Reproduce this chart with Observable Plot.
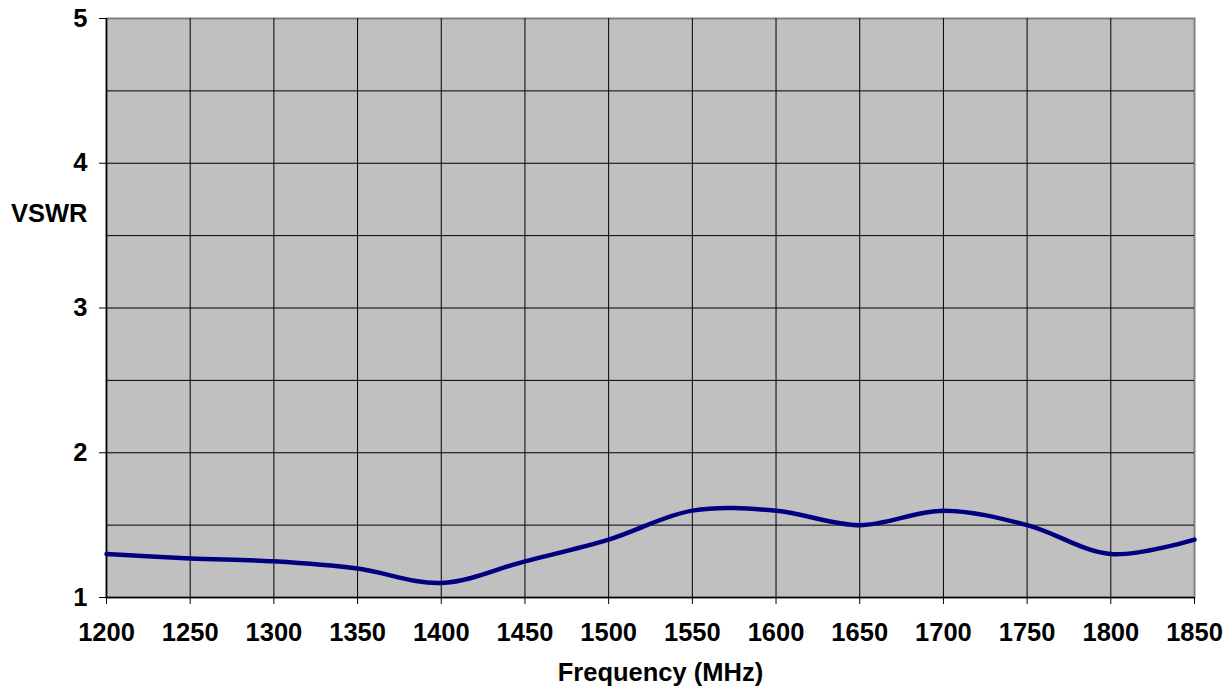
<!DOCTYPE html>
<html>
<head>
<meta charset="utf-8">
<script src="https://cdn.jsdelivr.net/npm/d3@7"></script>
<script src="https://cdn.jsdelivr.net/npm/@observablehq/plot@0.6"></script>
<style>
  html, body { margin: 0; padding: 0; background: #fff; }
  #chart svg { display: block; }
</style>
</head>
<body>
<div id="chart"></div>
<script>
const frequencies = [1200, 1250, 1300, 1350, 1400, 1450, 1500, 1550, 1600, 1650, 1700, 1750, 1800, 1850];
const vswr =        [1.30, 1.27, 1.25, 1.20, 1.10, 1.25, 1.40, 1.60, 1.60, 1.50, 1.60, 1.50, 1.30, 1.40];
const xTicks = [1200, 1250, 1300, 1350, 1400, 1450, 1500, 1550, 1600, 1650, 1700, 1750, 1800, 1850];
const yTicks = [1, 2, 3, 4, 5];
const yGrid = [1.5, 2, 2.5, 3, 3.5, 4, 4.5];
const xLabel = "Frequency (MHz)";
const yLabel = "VSWR";

const data = frequencies.map((f, i) => ({f, v: vswr[i]}));
const fs = 25.5;

const chart = Plot.plot({
  width: 1230,
  height: 690,
  marginLeft: 106,
  marginRight: 36,
  marginTop: 18,
  marginBottom: 93,
  style: {
    fontFamily: "'Liberation Sans', Arial, sans-serif",
    fontSize: fs + "px",
    fontWeight: "bold",
    color: "#000",
    background: "#fff",
    overflow: "visible"
  },
  x: {domain: [1200, 1850]},
  y: {domain: [1, 5]},
  marks: [
    Plot.frame({fill: "#c0c0c0", stroke: "#808080", strokeWidth: 2}),
    Plot.gridX(xTicks.slice(1, -1), {stroke: "#000", strokeOpacity: 1, strokeWidth: 1}),
    Plot.gridY(yGrid, {stroke: "#000", strokeOpacity: 1, strokeWidth: 1}),
    Plot.ruleX([1200], {stroke: "#000", strokeWidth: 1.5}),
    Plot.ruleY([1], {stroke: "#000", strokeWidth: 1.5}),
    Plot.line(data, {x: "f", y: "v", curve: "catmull-rom", stroke: "#000080", strokeWidth: 4.5}),
    Plot.axisX(xTicks, {tickSize: 7, tickPadding: 18, fontSize: fs, fontWeight: "bold", label: null, stroke: "#000", tickFormat: d => String(d)}),
    Plot.axisY(yTicks, {tickSize: 7, tickPadding: 12, fontSize: fs, fontWeight: "bold", label: null, stroke: "#000", tickFormat: d => String(d)}),
    Plot.text([xLabel], {frameAnchor: "bottom", dx: 10, dy: 75, fontSize: fs, fontWeight: "bold", fill: "#000", textAnchor: "middle", lineAnchor: "middle"}),
    Plot.text([yLabel], {frameAnchor: "top-left", dx: -19, dy: 195, fontSize: fs, fontWeight: "bold", fill: "#000", textAnchor: "end", lineAnchor: "middle"})
  ]
});
document.getElementById("chart").appendChild(chart);
</script>
</body>
</html>
